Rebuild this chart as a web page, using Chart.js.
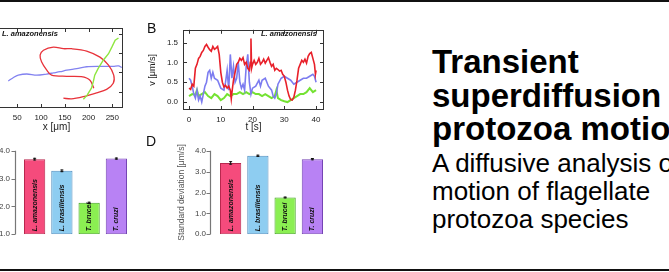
<!DOCTYPE html>
<html>
<head>
<meta charset="utf-8">
<script src="https://cdn.jsdelivr.net/npm/chart.js@4.4.0/dist/chart.umd.min.js"></script>
<style>
html, body { margin: 0; padding: 0; background: #fff; }
body { width: 669px; height: 272px; overflow: hidden; position: relative; font-family: "Liberation Sans", Arial, sans-serif; }
canvas { position: absolute; }
.rule { position: absolute; left: 0; width: 669px; background: #111; }
.panel { position: absolute; font-size: 14px; line-height: 14px; color: #111; }
.tag { position: absolute; font-size: 7.5px; font-weight: bold; font-style: italic; color: #111; white-space: nowrap; }
.title { position: absolute; left: 432px; top: 45px; font-size: 33px; line-height: 33.5px; font-weight: bold; color: #000; white-space: nowrap; }
.sub { position: absolute; left: 432px; top: 149px; font-size: 26px; line-height: 28px; color: #000; white-space: nowrap; }
</style>
</head>
<body>
<div class="rule" style="top:0;height:2px"></div>
<div class="rule" style="top:269px;height:2px"></div>

<canvas id="chartA" width="170" height="115" style="left:-40px;top:20px"></canvas>
<canvas id="chartB" width="195" height="115" style="left:140px;top:20px"></canvas>
<canvas id="chartC" width="140" height="115" style="left:0px;top:135px"></canvas>
<canvas id="chartD" width="200" height="115" style="left:140px;top:135px"></canvas>

<div class="panel" style="left:147px;top:21px">B</div>
<div class="panel" style="left:146px;top:134px">D</div>
<div class="tag" style="left:2px;top:29px">L. amazonensis</div>
<div class="tag" style="left:261px;top:29px">L. amazonensis</div>

<div class="title">Transient<br>superdiffusion in<br>protozoa motion</div>
<div class="sub">A diffusive analysis of<br>motion of flagellate<br>protozoa species</div>

<script>
// panel A: trajectories (x, y in um)
var redX = [211, 203, 185, 154, 122, 112, 101, 98, 105, 126, 147, 164, 196, 224, 242, 253, 252, 238, 217, 189, 164, 147];
var redY = [59, 80, 89, 90, 93, 106, 128, 145, 158, 166, 162, 162, 156, 140, 119, 93, 72, 56, 47, 37, 31, 33];
var blueX = [31, 42, 52, 70, 91, 112, 126, 140, 154, 175, 196, 224, 252, 263, 270];
var blueY = [78, 87, 93, 96, 93, 96, 99, 102, 106, 110, 115, 116, 116, 117, 113];
var greenX = [189, 197, 206, 210, 213, 220, 231, 242, 249, 256, 263];
var greenY = [30, 41, 59, 76, 93, 110, 132, 149, 166, 184, 190];

// panel B: speed v [um/s] against t [s]
var tRed = [0, 0.5, 1, 1.5, 2, 2.5, 3, 3.5, 4, 4.5, 5, 5.5, 6, 6.5, 7, 7.5, 8, 8.5, 9, 9.5, 10, 10.5, 11, 11.5, 12, 12.5, 13, 13.3, 13.6, 14, 14.5, 15, 15.5, 16, 16.5, 17, 17.5, 18, 18.5, 19, 19.3, 19.5, 19.7, 20, 20.5, 21, 21.5, 22, 22.5, 23, 23.5, 24, 24.5, 25, 25.5, 26, 26.5, 27, 27.5, 28, 28.5, 29, 29.5, 30, 30.5, 31, 31.5, 32, 32.5, 33, 33.5, 34, 34.5, 35, 35.5, 36, 36.5, 37, 37.5, 38, 38.5, 39, 39.5, 39.8, 40];
var vRed = [0.35, 0.32, 0.45, 0.4, 0.85, 0.95, 1.1, 1.15, 1.25, 1.3, 1.4, 1.45, 1.38, 1.32, 1.28, 1.4, 1.33, 1.36, 1.4, 1.2, 0.75, 0.5, 0.38, 0.42, 0.35, 0.4, 0.3, 0.08, 0.3, 0.55, 0.75, 0.95, 1.0, 1.1, 1.05, 1.12, 0.95, 1.0, 0.85, 0.8, 1.0, 1.6, 0.85, 0.95, 1.05, 0.95, 1.0, 1.1, 0.95, 1.0, 1.08, 0.98, 1.05, 1.12, 1.0, 0.9, 0.95, 0.8, 0.85, 0.82, 0.78, 0.8, 0.7, 0.65, 0.5, 0.3, 0.15, 0.06, 0.05, 0.12, 0.3, 0.55, 0.85, 0.95, 1.05, 1.0, 1.08, 0.98, 1.15, 1.22, 1.25, 1.1, 0.95, 0.7, 0.8];
var tBlue = [0, 0.5, 1, 1.5, 2, 2.5, 3, 3.5, 4, 4.5, 5, 5.5, 6, 6.5, 7, 7.5, 8, 9, 10, 11, 11.5, 12, 12.5, 13, 13.5, 14, 14.5, 15, 15.5, 16, 16.5, 17, 17.5, 18, 18.5, 19, 19.5, 20, 21, 22, 22.5, 23, 24, 25, 26, 26.5, 27, 27.5, 28, 29, 30, 31, 32, 33, 34, 35, 36, 37, 38, 39, 39.5, 40];
var vBlue = [0.6, 0.55, 0.4, 0.2, 0.1, 0.3, 0.05, 0.15, 0.0, 0.2, 0.4, 0.5, 0.75, 0.8, 0.6, 0.75, 0.6, 0.55, 0.35, 0.3, 0.5, 0.8, 0.3, 1.2, 0.6, 0.9, 0.5, 0.6, 1.0, 0.5, 0.35, 0.45, 0.3, 0.9, 1.2, 0.5, 0.2, 0.35, 0.4, 0.55, 0.4, 0.55, 0.6, 0.4, 0.3, 0.15, 0.1, 0.2, 0.45, 0.6, 0.65, 0.6, 0.55, 0.45, 0.5, 0.55, 0.6, 0.6, 0.65, 0.7, 0.65, 0.5];
var tGreen = [0, 1, 2, 2.5, 3, 4, 5, 6, 7, 8, 9, 10, 11, 12, 13, 14, 15, 16, 17, 18, 19, 20, 21, 22, 23, 24, 25, 26, 27, 27.5, 28, 29, 30, 31, 32, 33, 34, 35, 36, 37, 38, 38.5, 39, 40];
var vGreen = [0.15, 0.2, 0.18, 0.3, 0.15, 0.2, 0.25, 0.15, 0.1, 0.2, 0.15, 0.05, 0.1, 0.2, 0.15, 0.2, 0.2, 0.25, 0.2, 0.25, 0.2, 0.25, 0.2, 0.2, 0.15, 0.2, 0.15, 0.1, 0.15, 0.3, 0.1, 0.05, 0.02, 0.0, 0.05, 0.1, 0.15, 0.2, 0.2, 0.25, 0.35, 0.3, 0.25, 0.3];

// panels C and D: one bar per species
var species = ['L. amazonensis', 'L. brasiliensis', 'T. brucei', 'T. cruzi'];
var valC = [3.7, 3.28, 2.13, 3.72];
var errC = [0.03, 0.03, 0.02, 0.02];
var valD = [3.42, 3.76, 1.76, 3.6];
var errD = [0.06, 0.03, 0.02, 0.03];
var fills = ['#f54b7c', '#8ecdf1', '#8bef52', '#b882f4'];
var edges = ['#b8284f', '#4f8dbf', '#44a324', '#7544b4'];

function pts(xs, ys) {
    return xs.map(function (x, i) { return { x: x, y: ys[i] }; });
}

var tickFont = { family: 'Liberation Sans', size: 8 };
var titleFont = { family: 'Liberation Sans', size: 10 };

// gnuplot style box with inner ticks
var boxFrame = {
    id: 'boxFrame',
    afterDatasetsDraw: function (chart) {
        var ctx = chart.ctx, a = chart.chartArea, x = chart.scales.x, y = chart.scales.y;
        ctx.save();
        ctx.strokeStyle = '#333';
        ctx.lineWidth = 1;
        ctx.strokeRect(Math.round(a.left) + 0.5, Math.round(a.top) + 0.5, Math.round(a.right - a.left) - 1, Math.round(a.bottom - a.top) - 1);
        ctx.beginPath();
        x.ticks.forEach(function (t) {
            var px = Math.round(x.getPixelForValue(t.value)) + 0.5;
            ctx.moveTo(px, a.bottom); ctx.lineTo(px, a.bottom - 4);
            ctx.moveTo(px, a.top); ctx.lineTo(px, a.top + 4);
        });
        y.ticks.forEach(function (t) {
            var py = Math.round(y.getPixelForValue(t.value)) + 0.5;
            ctx.moveTo(a.left, py); ctx.lineTo(a.left + 4, py);
            ctx.moveTo(a.right, py); ctx.lineTo(a.right - 4, py);
        });
        ctx.stroke();
        ctx.restore();
    }
};

// detached left axis, error bars and names written inside the bars
function barExtras(errors, gap) {
    return {
        id: 'barExtras',
        afterDatasetsDraw: function (chart) {
            var ctx = chart.ctx, a = chart.chartArea, y = chart.scales.y;
            var ax = Math.round(a.left - gap) + 0.5;
            ctx.save();
            ctx.strokeStyle = '#777';
            ctx.lineWidth = 1.2;
            ctx.beginPath();
            ctx.moveTo(ax, y.getPixelForValue(y.max));
            ctx.lineTo(ax, y.getPixelForValue(y.min));
            y.ticks.forEach(function (t) {
                var py = Math.round(y.getPixelForValue(t.value)) + 0.5;
                ctx.moveTo(ax - 4, py); ctx.lineTo(ax, py);
            });
            ctx.stroke();

            var meta = chart.getDatasetMeta(0);
            var vals = chart.data.datasets[0].data;
            ctx.strokeStyle = '#111';
            ctx.lineWidth = 1;
            ctx.fillStyle = '#111';
            ctx.font = 'bold italic 7px "Liberation Sans"';
            ctx.textAlign = 'left';
            ctx.textBaseline = 'middle';
            meta.data.forEach(function (bar, i) {
                var top = y.getPixelForValue(vals[i] + errors[i]);
                var bot = y.getPixelForValue(vals[i] - errors[i]);
                ctx.beginPath();
                ctx.moveTo(bar.x, top - 0.5); ctx.lineTo(bar.x, bot + 0.5);
                ctx.moveTo(bar.x - 1.5, top); ctx.lineTo(bar.x + 1.5, top);
                ctx.moveTo(bar.x - 1.5, bot); ctx.lineTo(bar.x + 1.5, bot);
                ctx.stroke();
                ctx.save();
                ctx.translate(bar.x, Math.min(bar.base, a.bottom) - 3);
                ctx.rotate(-Math.PI / 2);
                ctx.fillText(chart.data.labels[i], 0, 0);
                ctx.restore();
            });
            ctx.restore();
        }
    };
}

new Chart(document.getElementById('chartA'), {
    type: 'scatter',
    data: {
        datasets: [
            { data: pts(greenX, greenY), borderColor: '#8ee63f', borderWidth: 1.4, showLine: true, pointRadius: 0 },
            { data: pts(redX, redY), borderColor: '#e8323a', borderWidth: 1.3, showLine: true, pointRadius: 0, tension: 0.3 },
            { data: pts(blueX, blueY), borderColor: '#8282f0', borderWidth: 1.3, showLine: true, pointRadius: 0, tension: 0.3 }
        ]
    },
    options: {
        responsive: false,
        animation: false,
        layout: { padding: { left: 30, right: 7, top: 8, bottom: 0 } },
        plugins: { legend: { display: false }, tooltip: { enabled: false } },
        scales: {
            x: {
                type: 'linear', min: -7.5, max: 272.5,
                grid: { display: false, drawTicks: false },
                border: { display: false },
                ticks: { stepSize: 50, includeBounds: false, padding: 5, color: '#222', font: tickFont, maxRotation: 0 },
                title: { display: true, text: 'x [μm]', color: '#222', font: titleFont, padding: { top: 0, bottom: 2 } },
                afterFit: function (s) { s.height = 27; }
            },
            y: {
                type: 'linear', min: 7.4, max: 216,
                grid: { display: false, drawTicks: false },
                border: { display: false },
                ticks: { stepSize: 50, includeBounds: false, display: false },
                afterFit: function (s) { s.width = 0; }
            }
        }
    },
    plugins: [boxFrame]
});

new Chart(document.getElementById('chartB'), {
    type: 'scatter',
    data: {
        datasets: [
            { data: pts(tRed, vRed), borderColor: '#e8202a', borderWidth: 1.6, showLine: true, pointRadius: 0 },
            { data: pts(tBlue, vBlue), borderColor: '#7c7cf0', borderWidth: 1.6, showLine: true, pointRadius: 0 },
            { data: pts(tGreen, vGreen), borderColor: '#74e232', borderWidth: 2, showLine: true, pointRadius: 0 }
        ]
    },
    options: {
        responsive: false,
        animation: false,
        layout: { padding: { left: 0, right: 11, top: 8, bottom: 0 } },
        plugins: { legend: { display: false }, tooltip: { enabled: false } },
        scales: {
            x: {
                type: 'linear', min: -1.9, max: 42.5,
                grid: { display: false, drawTicks: false },
                border: { display: false },
                ticks: { stepSize: 10, includeBounds: false, padding: 5, color: '#222', font: tickFont, maxRotation: 0 },
                title: { display: true, text: 't [s]', color: '#222', font: titleFont, padding: { top: 0, bottom: 2 } },
                afterFit: function (s) { s.height = 25; }
            },
            y: {
                type: 'linear', min: -0.2, max: 1.82,
                grid: { display: false, drawTicks: false },
                border: { display: false },
                ticks: { stepSize: 0.5, includeBounds: false, padding: 5, color: '#222', font: tickFont,
                    callback: function (v) { return v.toFixed(1); } },
                title: { display: true, text: 'v [μm/s]', color: '#222', font: { family: 'Liberation Sans', size: 9 }, padding: { top: 7, bottom: 0 } },
                afterFit: function (s) { s.width = 43; }
            }
        }
    },
    plugins: [boxFrame]
});

function barChart(id, values, errors, yMin, gap, yWidth, padRight, yTitle) {
    var yScale = {
        min: yMin, max: 4,
        grid: { display: false, drawTicks: false },
        border: { display: false },
        ticks: { stepSize: 1, padding: 11, color: '#444', font: tickFont,
            callback: function (v) { return v.toFixed(1); } },
        afterFit: function (s) { s.width = yWidth; }
    };
    if (yTitle) {
        yScale.title = { display: true, text: yTitle, color: '#555', font: { family: 'Liberation Sans', size: 8.5 }, padding: { top: 37, bottom: 0 } };
    }
    new Chart(document.getElementById(id), {
        type: 'bar',
        data: {
            labels: species,
            datasets: [{
                data: values,
                base: yMin,
                backgroundColor: fills,
                borderColor: edges,
                borderWidth: 1,
                borderSkipped: false,
                categoryPercentage: 1,
                barPercentage: 0.78
            }]
        },
        options: {
            responsive: false,
            animation: false,
            layout: { padding: { left: 0, right: padRight, top: 10, bottom: 9 } },
            plugins: { legend: { display: false }, tooltip: { enabled: false } },
            scales: {
                x: { display: false },
                y: yScale
            }
        },
        plugins: [barExtras(errors, gap)]
    });
}

barChart('chartC', valC, errC, 1, 6, 21, 10, null);
barChart('chartD', valD, errD, 0, 7, 77, 14, 'Standard deviation [μm/s]');
</script>
</body>
</html>
